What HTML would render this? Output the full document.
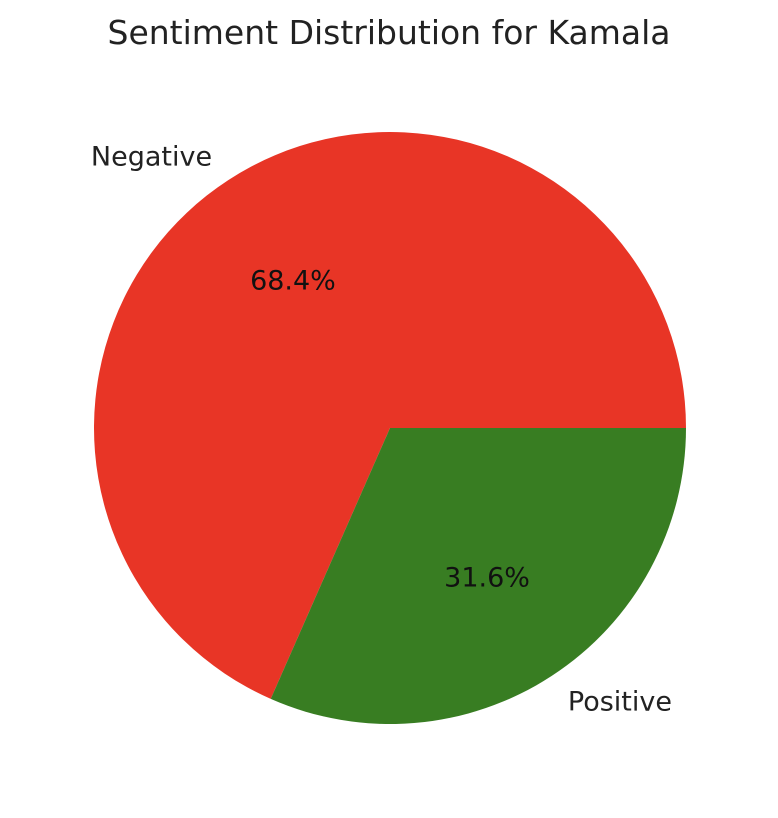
<!DOCTYPE html>
<html>
<head>
<meta charset="utf-8">
<style>
  html,body{margin:0;padding:0;background:#fff;}
  svg{display:block;font-family:"DejaVu Sans","Liberation Sans",sans-serif;}
</style>
</head>
<body>
<svg id="chart" width="778" height="818" viewBox="0 0 778 818">
  <text x="389" y="44" text-anchor="middle" font-size="33" fill="#222">Sentiment Distribution for Kamala</text>
  <g id="slices"></g>
</svg>
<script>
const categories = ["Negative", "Positive"];
const values = [68.4, 31.6];
const colors = ["#e83526", "#387d22"];

const cx = 390, cy = 428, r = 296;
const svg = document.getElementById('chart');
const g = document.getElementById('slices');
const NS = 'http://www.w3.org/2000/svg';
const total = values.reduce((a, b) => a + b, 0);
function pt(angDeg, rad) {
  const a = angDeg * Math.PI / 180;
  return [cx + rad * Math.cos(a), cy - rad * Math.sin(a)];
}
let start = 0;
values.forEach((v, i) => {
  const sweep = v / total * 360;
  const end = start + sweep;
  const [x1, y1] = pt(start, r);
  const [x2, y2] = pt(end, r);
  const large = sweep > 180 ? 1 : 0;
  const p = document.createElementNS(NS, 'path');
  p.setAttribute('d', `M${cx},${cy} L${x1},${y1} A${r},${r} 0 ${large} 0 ${x2},${y2} Z`);
  p.setAttribute('fill', colors[i]);
  
  
  g.appendChild(p);

  const mid = start + sweep / 2;
  const [lx, ly] = pt(mid, r * 1.1);
  const lt = document.createElementNS(NS, 'text');
  lt.setAttribute('x', lx);
  lt.setAttribute('y', ly + 10);
  lt.setAttribute('font-size', '27');
  lt.setAttribute('fill', '#222');
  lt.setAttribute('text-anchor', Math.cos(mid * Math.PI / 180) < 0 ? 'end' : 'start');
  lt.textContent = categories[i];
  
  
  svg.appendChild(lt);

  const [px, py] = pt(mid, r * 0.6);
  const pc = document.createElementNS(NS, 'text');
  pc.setAttribute('x', px);
  pc.setAttribute('y', py + 10);
  pc.setAttribute('font-size', '27');
  pc.setAttribute('fill', '#111');
  pc.setAttribute('text-anchor', 'middle');
  pc.textContent = (v / total * 100).toFixed(1) + '%';
  
  
  svg.appendChild(pc);

  start = end;
});
</script>
</body>
</html>
